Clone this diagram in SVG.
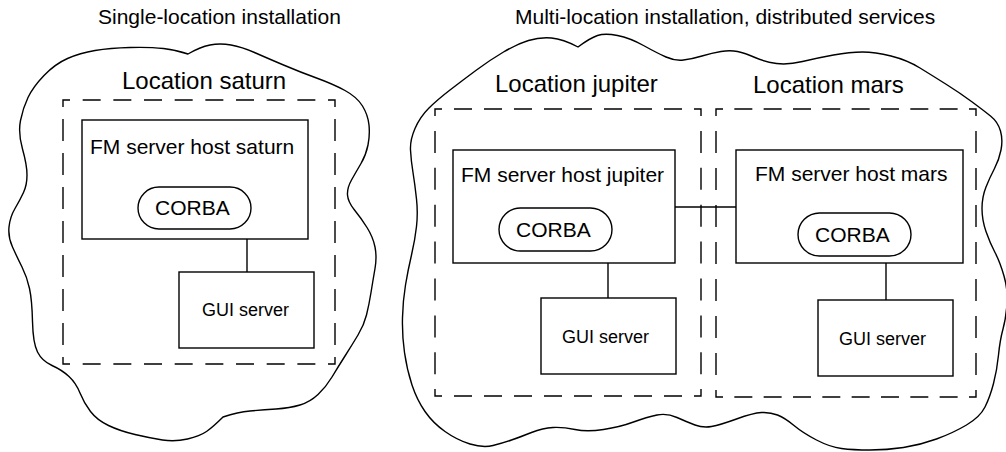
<svg xmlns="http://www.w3.org/2000/svg" width="1006" height="452" viewBox="0 0 1006 452">
  <style>
    text { font-family: "Liberation Sans", Arial, Helvetica, sans-serif; fill: #000; }
    .title { font-size: 21px; }
    .loc { font-size: 24px; }
    .host { font-size: 21px; }
    .corba { font-size: 21px; }
    .gui { font-size: 18px; }
    .cloud { fill: none; stroke: #000; stroke-width: 1.4; stroke-linejoin: round; }
    .box { fill: none; stroke: #000; stroke-width: 1.4; }
    .dash { fill: none; stroke: #000; stroke-width: 1.4; }
    .link { fill: none; stroke: #000; stroke-width: 1.4; }
  </style>

  <!-- Section titles -->
  <text class="title" x="98" y="24">Single-location installation</text>
  <text class="title" x="515" y="24">Multi-location installation, distributed services</text>

  <!-- Cloud outlines -->
  <g id="clouds">
    <path id="cloud-single" class="cloud" d="M22.5,149 Q18,133 20.5,120.5 Q23,108 28,97.5 Q33,87 44,75.5 Q55,64 67.5,58.5 Q80,53 95,50.5 Q110,48 130,47.5 Q150,47 163.5,48.5 Q177,50 188,54 Q200,47 210,45 Q220,43 231,45 Q242,47 254.5,52.5 Q267,58 283.5,65 Q300,72 316.5,78 Q333,84 345,90.5 Q357,97 362.5,106 Q368,115 369,125 Q370,135 368,145 Q366,155 361,163.5 Q356,172 351.5,180 Q347,188 347.5,195 Q348,202 354.5,210 Q361,218 367,227.5 Q373,237 375,247 Q377,257 375,268.5 Q373,280 371,292.5 Q369,305 366.5,315 Q364,325 358,335 Q352,345 345,356 Q338,367 332,377 Q326,387 318,394.5 Q310,402 300,405 Q290,408 276,409 Q262,410 250,411 Q238,412 223,417 Q213,427 206.5,431.5 Q200,436 187.5,439 Q175,442 162.5,440 Q150,438 135,434.5 Q120,431 108.5,425.5 Q97,420 90.5,411.5 Q84,403 80,393 Q76,383 69,376.5 Q62,370 52,365.5 Q42,361 37.5,352 Q33,343 32.5,321.5 Q32,300 29.5,288.5 Q27,277 22,267 Q17,257 12.5,247 Q8,237 9,227 Q10,217 15,208.5 Q20,200 23.5,192.5 Q27,185 27,175 Q27,165 22.5,149 Z"/>
    <path id="cloud-multi" class="cloud" d="M410.5,150 Q410,140 415,128.5 Q420,117 428.5,108.5 Q437,100 450,90 Q463,80 476.5,70 Q490,60 503.5,52 Q517,44 528.5,40.5 Q540,37 551.5,38 Q563,39 578,47 Q590,38 597.5,35.5 Q605,33 617.5,35.5 Q630,38 643.5,45.5 Q657,53 666,57 Q675,61 683.5,60 Q692,59 702,56 Q712,53 721,51.5 Q730,50 737.5,51.5 Q745,53 755,57.5 Q765,62 776.5,63.5 Q788,65 802.5,61.5 Q817,58 833.5,55 Q850,52 862.5,52 Q875,52 891,56 Q907,60 920,68 Q933,76 946.5,84.5 Q960,93 971.5,101.5 Q983,110 990.5,116 Q998,122 1000.5,131 Q1003,140 1001,150 Q999,160 994.5,168.5 Q990,177 986,187 Q982,197 982,208.5 Q982,220 986,231.5 Q990,243 995,252.5 Q1000,262 1004,276 Q1008,290 1007,304 Q1006,318 1003,329 Q1000,340 998.5,355 Q997,370 993.5,383.5 Q990,397 985,407 Q980,417 966.5,425 Q953,433 936.5,439 Q920,445 903.5,447.5 Q887,450 870,450 Q853,450 841.5,448.5 Q830,447 816.5,440 Q803,433 794,425.5 Q785,418 777.5,415 Q770,412 761.5,412.5 Q753,413 736.5,419 Q720,425 711.5,426.5 Q703,428 695,425 Q687,422 677,417.5 Q667,413 657,415 Q647,417 633.5,422 Q620,427 603.5,429.5 Q587,432 575,429.5 Q563,427 553,427.5 Q543,428 531.5,432.5 Q520,437 511.5,440 Q503,443 493,445.5 Q483,448 470,444 Q457,440 445,431.5 Q433,423 425,411.5 Q417,400 412,385 Q407,370 404.5,352.5 Q402,335 402.5,317.5 Q403,300 405.5,285 Q408,270 411.5,255 Q415,240 416.5,226.5 Q418,213 416.5,199 Q415,185 413,172.5 Q411,160 410.5,150 Z"/>
  </g>

  <!-- Location boundaries (dashed) -->
  <g id="location-saturn">
    <path class="dash" d="M63,107 V100 H70 M328,100 H335 V107 M335,357 V364 H328 M70,364 H63 V357"/>
    <path class="dash" d="M70,100 H328 M70,364 H328" stroke-dasharray="18 12.67" stroke-dashoffset="18"/>
    <path class="dash" d="M63,107 V357 M335,107 V357" stroke-dasharray="22 12" stroke-dashoffset="22"/>
    <text class="loc" x="122" y="89">Location saturn</text>
  </g>
  <g id="location-jupiter">
    <path class="dash" d="M435,116 V109 H442 M694,109 H701 V116 M701,389 V396 H694 M442,396 H435 V389"/>
    <path class="dash" d="M442,109 H694 M442,396 H694" stroke-dasharray="18 12" stroke-dashoffset="18"/>
    <path class="dash" d="M435,116 V389 M701,116 V389" stroke-dasharray="22 14.9" stroke-dashoffset="22"/>
    <text class="loc" x="495" y="92">Location jupiter</text>
  </g>
  <g id="location-mars">
    <path class="dash" d="M716,116 V109 H723 M969,109 H976 V116 M976,390 V397 H969 M723,397 H716 V390"/>
    <path class="dash" d="M723,109 H969 M723,397 H969" stroke-dasharray="18 11.33" stroke-dashoffset="18"/>
    <path class="dash" d="M716,116 V390 M976,116 V390" stroke-dasharray="22 15" stroke-dashoffset="22"/>
    <text class="loc" x="753" y="93">Location mars</text>
  </g>

  <!-- Connectors -->
  <g id="connectors">
    <line class="link" x1="247" y1="239" x2="247" y2="272"/>
    <line class="link" x1="608" y1="263" x2="608" y2="298"/>
    <line class="link" x1="886" y1="263" x2="886" y2="300"/>
    <line class="link" x1="675" y1="207" x2="736" y2="207"/>
  </g>

  <!-- Saturn nodes -->
  <g id="fm-host-saturn">
    <rect class="box" x="82" y="120" width="226" height="119"/>
    <text class="host" x="90" y="154">FM server host saturn</text>
  </g>
  <g id="corba-saturn">
    <rect class="box" x="138" y="187" width="113" height="42" rx="21" ry="21"/>
    <text class="corba" x="155" y="215">CORBA</text>
  </g>
  <g id="gui-saturn">
    <rect class="box" x="179" y="272" width="135" height="76"/>
    <text class="gui" x="202" y="316">GUI server</text>
  </g>

  <!-- Jupiter nodes -->
  <g id="fm-host-jupiter">
    <rect class="box" x="453" y="150" width="222" height="113"/>
    <text class="host" x="461" y="182">FM server host jupiter</text>
  </g>
  <g id="corba-jupiter">
    <rect class="box" x="499" y="208" width="113" height="43" rx="21.5" ry="21.5"/>
    <text class="corba" x="516" y="237">CORBA</text>
  </g>
  <g id="gui-jupiter">
    <rect class="box" x="541" y="298" width="135" height="76"/>
    <text class="gui" x="562" y="343">GUI server</text>
  </g>

  <!-- Mars nodes -->
  <g id="fm-host-mars">
    <rect class="box" x="736" y="150" width="227" height="113"/>
    <text class="host" x="755" y="181">FM server host mars</text>
  </g>
  <g id="corba-mars">
    <rect class="box" x="798" y="213" width="113" height="43" rx="21.5" ry="21.5"/>
    <text class="corba" x="815" y="242">CORBA</text>
  </g>
  <g id="gui-mars">
    <rect class="box" x="818" y="300" width="135" height="76"/>
    <text class="gui" x="839" y="345">GUI server</text>
  </g>
</svg>
